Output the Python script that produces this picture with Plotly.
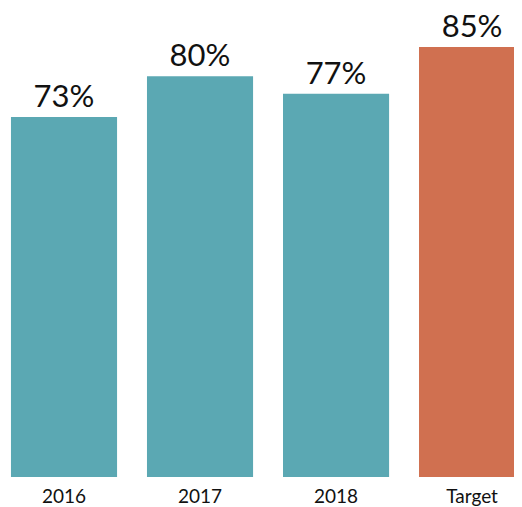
import plotly.graph_objects as go

categories = ["2016", "2017", "2018", "Target"]
values = [73, 80, 77, 85]
labels = ["73%", "80%", "77%", "85%"]
colors = ["#5ba8b3", "#5ba8b3", "#5ba8b3", "#d07050"]

fig = go.Figure(
    go.Bar(
        x=categories,
        y=values,
        marker=dict(color=colors, line=dict(width=0)),
        text=labels,
        textposition="outside",
        cliponaxis=False,
        textfont=dict(family="Lato", size=31, color="#111111"),
        width=0.78,
    )
)

fig.update_layout(
    width=522,
    height=507,
    margin=dict(l=0, r=0, t=0, b=38),
    paper_bgcolor="white",
    plot_bgcolor="white",
    showlegend=False,
    xaxis=dict(
        range=[-0.4118, 3.426],
        showgrid=False,
        zeroline=False,
        showline=False,
        ticks="",
        ticklabelstandoff=6,
        tickfont=dict(family="Lato", size=19, color="#111111"),
    ),
    yaxis=dict(
        range=[11.3, 91.7],
        visible=False,
    ),
)

fig.write_html("out.html")
